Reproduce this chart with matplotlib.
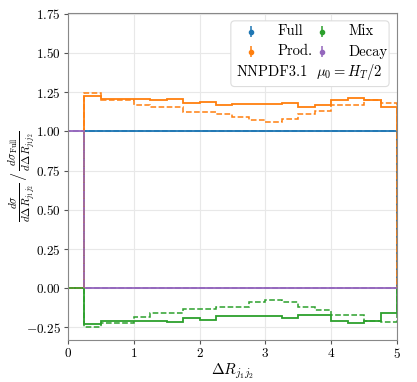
import matplotlib
matplotlib.use("Agg")
import matplotlib.pyplot as plt
from matplotlib.patches import FancyBboxPatch
import numpy as np

plt.rcParams["font.family"] = "serif"
plt.rcParams["font.serif"] = ["cmr10", "DejaVu Serif"]
plt.rcParams["mathtext.fontset"] = "cm"
plt.rcParams["axes.formatter.use_mathtext"] = True

edges = np.arange(0, 5.001, 0.25)

# ratios to Full, first bin [0, 0.25] empty
full = [0] + [1.0] * 19
prod = [0, 1.228, 1.204, 1.204, 1.204, 1.197, 1.204, 1.183, 1.19, 1.168, 1.172,
        1.172, 1.172, 1.178, 1.157, 1.166, 1.199, 1.215, 1.199, 1.153]
mix = [0, -0.229, -0.212, -0.212, -0.212, -0.208, -0.214, -0.191, -0.202, -0.178, -0.176,
       -0.176, -0.176, -0.187, -0.17, -0.17, -0.208, -0.223, -0.212, -0.159]
decay = [1] + [0.0] * 19

full_alt = [0] + [1.0] * 19
prod_alt = [0, 1.245, 1.2, 1.2, 1.168, 1.155, 1.155, 1.125, 1.125, 1.113, 1.092,
            1.072, 1.059, 1.076, 1.108, 1.127, 1.166, 1.166, 1.199, 1.178]
mix_alt = [0, -0.25, -0.219, -0.219, -0.183, -0.161, -0.161, -0.134, -0.134, -0.12, -0.12,
           -0.085, -0.074, -0.091, -0.117, -0.14, -0.172, -0.172, -0.208, -0.214]
decay_alt = [1] + [0.0] * 19

labels = ["Full", "Prod.", "Mix", "Decay"]
colors = ["#1f77b4", "#ff7f0e", "#2ca02c", "#9467bd"]

fig = plt.figure(figsize=(4.17, 3.82), dpi=100)
ax = fig.add_axes([0.163, 0.11, 0.789, 0.856])

for vals, c in zip([full, prod, mix, decay], colors):
    ax.stairs(vals, edges, baseline=0, color=c, lw=1.3)
for vals, c in zip([full_alt, prod_alt, mix_alt, decay_alt], colors):
    ax.stairs(vals, edges, baseline=0, color=c, lw=1.1, ls="--")

# legend drawn by hand: box, errorbar-style handles, labels
box = FancyBboxPatch((0.495, 0.775), 0.481, 0.201, boxstyle="round,pad=0,rounding_size=0.012",
                     transform=ax.transAxes, facecolor="white", edgecolor="#dddddd", lw=0.8, zorder=5)
ax.add_patch(box)
hx = [0.555, 0.555, 0.771, 0.771]
hy = [0.943, 0.882, 0.943, 0.882]
tx = [0.636, 0.636, 0.854, 0.854]
for lab, c, x, y, t in zip(labels, colors, hx, hy, tx):
    ax.errorbar([x], [y], yerr=[0.017], fmt="o", ms=3, color=c, lw=1.1,
                transform=ax.transAxes, zorder=6, clip_on=False)
    ax.text(t, y, lab, transform=ax.transAxes, fontsize=10.5, va="center", zorder=7)
ax.text(0.511, 0.820, "NNPDF3.1", transform=ax.transAxes, fontsize=10.5, va="center", zorder=7)
ax.text(0.754, 0.820, r"$\mu_0 = H_T/2$", transform=ax.transAxes, fontsize=10.5, va="center", zorder=7)

ax.set_xlim(0, 5)
ax.set_ylim(-0.33, 1.755)
ax.set_yticks(np.arange(-0.25, 1.76, 0.25))
ax.set_xticks(range(6))
ax.grid(True, color="#e8e8e8", lw=0.8)
ax.set_axisbelow(True)
for s in ax.spines.values():
    s.set_color("#888888")
ax.tick_params(colors="#555555", labelcolor="black", length=3, labelsize=9.5, pad=2)

ax.set_xlabel(r"$\Delta R_{j_1j_2}$", fontsize=11)
ax.xaxis.set_label_coords(0.5, -0.065)
ax.xaxis.label.set_va("top")
ax.set_ylabel(r"$\frac{d\sigma}{d\Delta R_{j_1j_2}} \,/\, \frac{d\sigma_{\rm Full}}{d\Delta R_{j_1j_2}}$",
              fontsize=11.5)
ax.yaxis.set_label_coords(-0.092, 0.5)

fig.savefig("out.png", dpi=100)
